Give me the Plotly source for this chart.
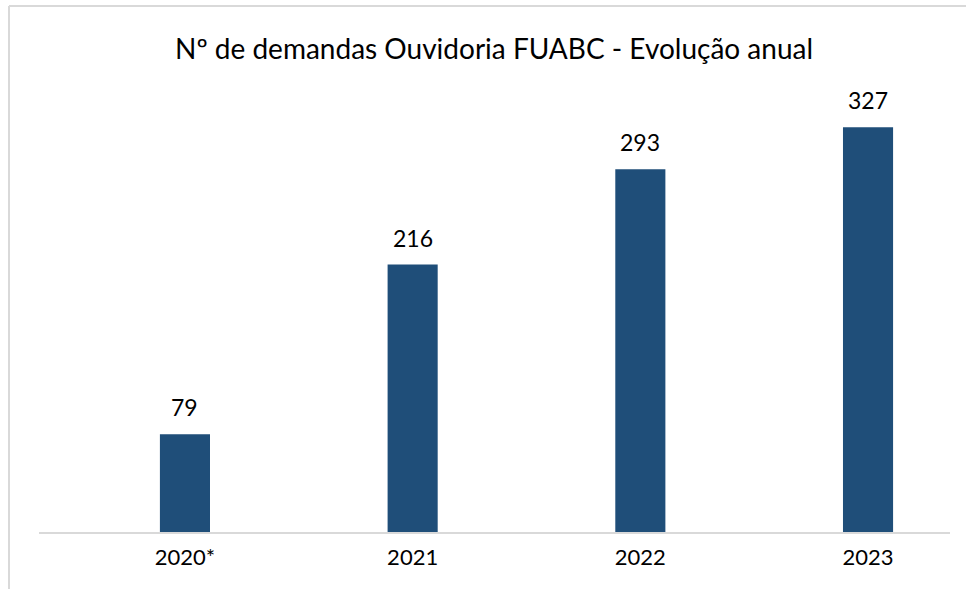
import plotly.graph_objects as go

categories = ["2020*", "2021", "2022", "2023"]
values = [79, 216, 293, 327]
title_text = "Nº de demandas Ouvidoria FUABC - Evolução anual"

W, H = 966, 589
L, R, T, B = 39, 16, 90, 57
pw, ph = W - L - R, H - T - B

def px_x(x):
    return (x - L) / pw

def px_y(y):
    return (H - B - y) / ph

fig = go.Figure()
fig.add_trace(go.Bar(
    x=list(range(len(categories))), y=values,
    width=0.22, marker=dict(color="#1F4E79", line=dict(width=0)),
    hoverinfo="skip",
))

annotations = []
for i, v in enumerate(values):
    annotations.append(dict(x=i, y=v, xref="x", yref="y", text=str(v), showarrow=False,
                            yanchor="bottom", yshift=11,
                            font=dict(size=23, color="#000000", family="Lato")))
annotations.append(dict(x=px_x(494), y=px_y(48), xref="paper", yref="paper", text=title_text,
                        showarrow=False, xanchor="center", yanchor="middle",
                        font=dict(size=28, color="#000000", family="Lato")))

shapes = [
    dict(type="line", xref="paper", yref="paper", x0=px_x(9), x1=px_x(9), y0=px_y(6), y1=px_y(600),
         line=dict(color="#D9D9D9", width=2)),
    dict(type="line", xref="paper", yref="paper", x0=px_x(9), x1=px_x(970), y0=px_y(6), y1=px_y(6),
         line=dict(color="#D9D9D9", width=2)),
]

fig.update_layout(
    width=W, height=H, margin=dict(l=L, r=R, t=T, b=B),
    paper_bgcolor="white", plot_bgcolor="white",
    showlegend=False, annotations=annotations, shapes=shapes,
    xaxis=dict(range=[-0.641, 3.36], tickmode="array", tickvals=list(range(len(categories))),
               ticktext=categories, showgrid=False, zeroline=False, showline=True,
               linecolor="#D9D9D9", linewidth=2, ticks="", ticklabelstandoff=5,
               tickfont=dict(size=22, color="#000000", family="Lato")),
    yaxis=dict(range=[0, 357], visible=False, showgrid=False, zeroline=False),
)

fig.write_html("out.html")
